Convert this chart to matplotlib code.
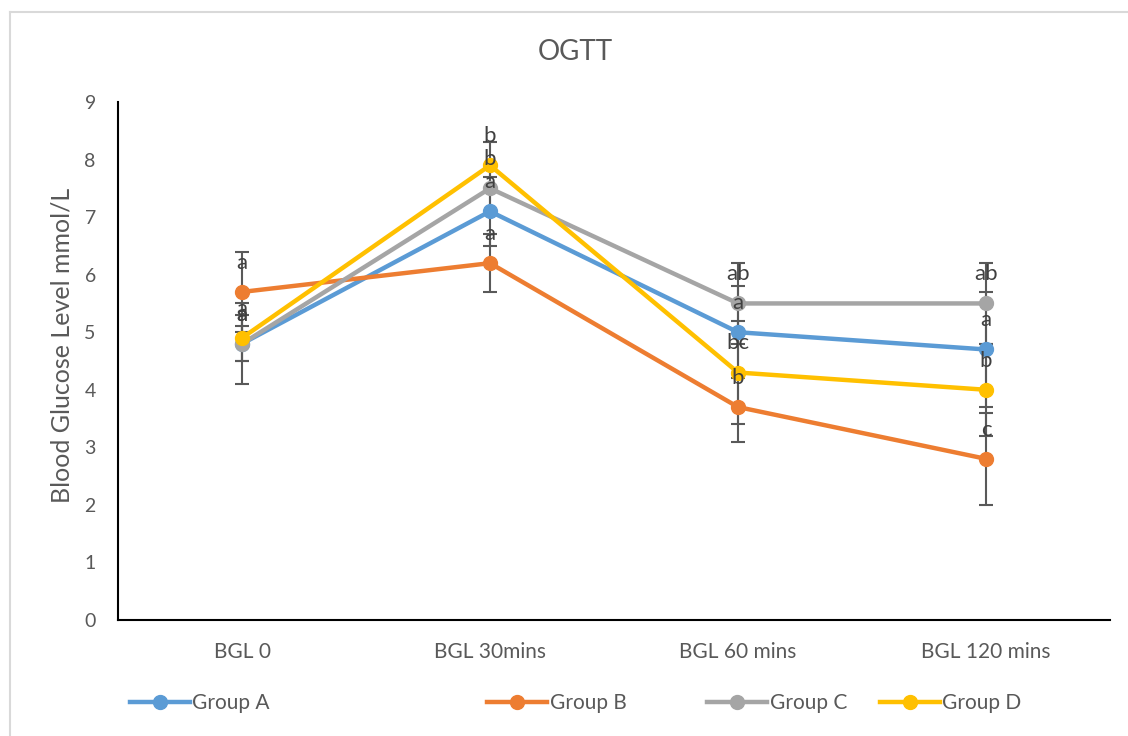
import matplotlib
matplotlib.use('Agg')
import matplotlib.pyplot as plt
from matplotlib.lines import Line2D

plt.rcParams['font.family'] = ['Lato', 'DejaVu Sans']

categories = ['BGL 0', 'BGL 30mins', 'BGL 60 mins', 'BGL 120 mins']
groups = ['Group A', 'Group B', 'Group C', 'Group D']
colors = ['#5B9BD5', '#ED7D31', '#A5A5A5', '#FFC000']

means = {
    'Group A': [4.8, 7.1, 5.0, 4.7],
    'Group B': [5.7, 6.2, 3.7, 2.8],
    'Group C': [4.8, 7.5, 5.5, 5.5],
    'Group D': [4.9, 7.9, 4.3, 4.0],
}
errors = {
    'Group A': [0.3, 0.6, 0.8, 1.0],
    'Group B': [0.7, 0.5, 0.6, 0.8],
    'Group C': [0.7, 0.4, 0.7, 0.7],
    'Group D': [0.4, 0.4, 0.9, 0.8],
}
letters = {
    'Group A': ['a', 'a', 'a', 'a'],
    'Group B': ['a', 'a', 'b', 'c'],
    'Group C': ['a', 'b', 'ab', 'ab'],
    'Group D': ['a', 'b', 'bc', 'b'],
}

TXT = '#595959'
W, H = 1128, 736
fig = plt.figure(figsize=(W / 100, H / 100), dpi=100)
ax = fig.add_axes([118 / W, 1 - 620 / H, 992 / W, 518 / H])

x = list(range(len(categories)))
for g, c in zip(groups, colors):
    ax.errorbar(x, means[g], yerr=errors[g], fmt='none', ecolor='#595959',
                elinewidth=1.5, capsize=5, capthick=1.5, zorder=2)
for g, c in zip(groups, colors):
    ax.plot(x, means[g], '-o', color=c, lw=3.2, ms=10, zorder=3)
for g in groups:
    for xi, yi, t in zip(x, means[g], letters[g]):
        ax.annotate(t, (xi, yi), textcoords='offset points', xytext=(0, 21),
                    ha='center', va='center', fontsize=16, color='#404040', zorder=4)

ax.set_xlim(-0.5, 3.5)
ax.set_ylim(0, 9)
ax.set_yticks(range(10))
ax.set_xticks(x)
ax.set_xticklabels(categories)
ax.tick_params(axis='both', length=0, labelcolor=TXT)
ax.tick_params(axis='y', pad=16, labelsize=14)
ax.tick_params(axis='x', pad=16, labelsize=15)
for s in ('top', 'right'):
    ax.spines[s].set_visible(False)
for s in ('left', 'bottom'):
    ax.spines[s].set_linewidth(1.5)
    ax.spines[s].set_color('black')
ax.set_ylabel('Blood Glucose Level mmol/L', fontsize=18, color=TXT)
ax.yaxis.set_label_coords(-0.0565, 0.53)
ax.yaxis.label.set_va('center')

fig.text(575 / W, 1 - 52 / H, 'OGTT', ha='center', va='center', fontsize=20, color=TXT)

# chart area border (top and left visible)
fig.add_artist(Line2D([10 / W, 1], [1 - 12 / H] * 2, transform=fig.transFigure,
                      color='#D9D9D9', lw=1.5))
fig.add_artist(Line2D([10 / W] * 2, [0, 1 - 12 / H], transform=fig.transFigure,
                      color='#D9D9D9', lw=1.5))

# legend entries, spaced as in the original
leg_x = [130, 487, 707, 880]
for g, c, lx in zip(groups, colors, leg_x):
    h = Line2D([], [], color=c, lw=3.2, marker='o', ms=10)
    fig.legend([h], [g], loc='center left', bbox_to_anchor=(lx / W, 1 - 703 / H),
               frameon=False, fontsize=15, labelcolor=TXT, handlelength=2.9,
               handletextpad=0.1, borderpad=0, borderaxespad=0)

fig.savefig('out.png', dpi=100)
